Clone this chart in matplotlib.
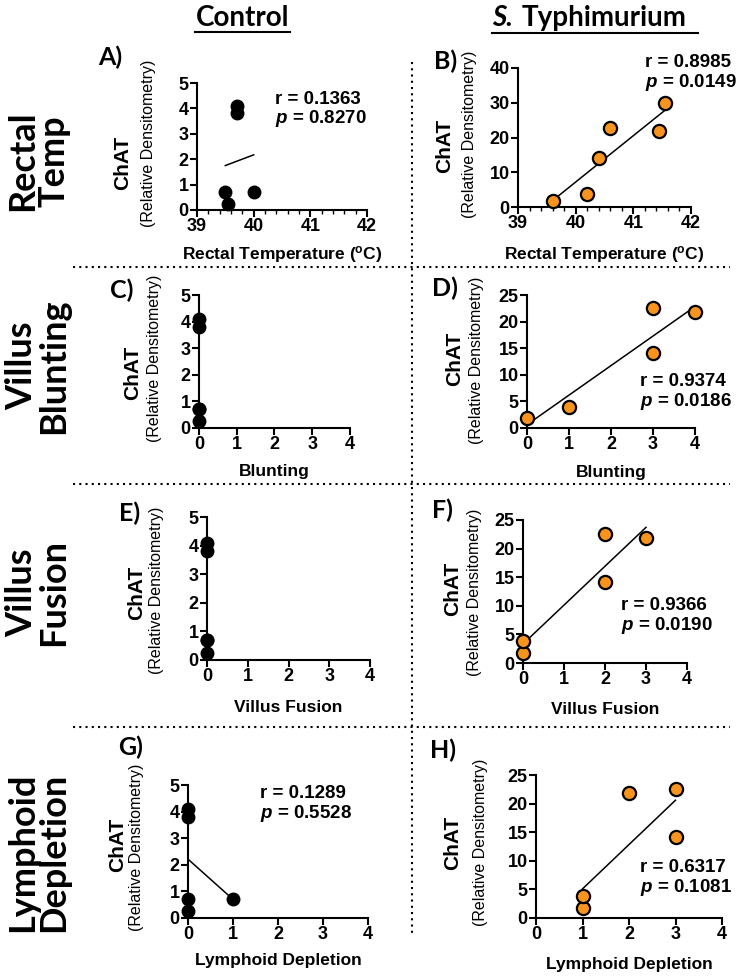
import numpy as np
import matplotlib.pyplot as plt
from matplotlib.lines import Line2D
from matplotlib.ticker import MultipleLocator

plt.rcParams['font.family'] = ['Liberation Sans', 'DejaVu Sans']
plt.rcParams['mathtext.fontset'] = 'custom'
plt.rcParams['mathtext.rm'] = 'Liberation Sans:bold'
plt.rcParams['mathtext.it'] = 'Liberation Sans:italic:bold'
plt.rcParams['mathtext.bf'] = 'Liberation Sans:bold'

W, H = 740, 977

# control animals
ctrl_chat = [4.1, 3.8, 0.7, 0.25, 0.7]
ctrl_temp = [39.7, 39.7, 39.5, 39.55, 40.0]
ctrl_blunt = [0, 0, 0, 0, 0]
ctrl_fusion = [0, 0, 0, 0, 0]
ctrl_lymph = [0, 0, 0, 0, 1]

# S. Typhimurium animals
st_chat_temp = [1.8, 3.8, 14.0, 22.6, 21.8, 29.8]
st_temp = [39.6, 40.2, 40.4, 40.6, 41.45, 41.55]
st_chat = [1.8, 3.9, 14.1, 22.6, 21.8]
st_blunt = [0, 1, 3, 3, 4]
st_fusion = [0, 0, 2, 2, 3]
st_lymph = [1, 1, 3, 3, 2]

r_vals = {'A': '0.1363', 'B': '0.8985', 'D': '0.9374', 'F': '0.9366', 'G': '0.1289', 'H': '0.6317'}
p_vals = {'A': '0.8270', 'B': '0.0149', 'D': '0.0186', 'F': '0.0190', 'G': '0.5528', 'H': '0.1081'}

xlab_temp = 'Rectal Temperature ($^{\\mathrm{o}}$C)'

ORANGE = '#f7941d'

# name, x, y, xlabel, xlim, ylim, ystep, fit, color, box(l,r,t,b), xlabel y, ChAT (x,y), paren (x,y), label pos, stats pos
panels = [
    ('A', ctrl_temp, ctrl_chat, xlab_temp, (39, 42), (0, 5), 1, True, 'k',
     (197, 367, 83, 210), 255, (123, 163), (148, 143), (110, 57), (0.46, 0.94)),
    ('B', st_temp, st_chat_temp, xlab_temp, (39, 42), (0, 40), 10, True, ORANGE,
     (518, 691, 68, 207), 255, (445, 146), (470, 134), (446, 61), (0.735, 1.10)),
    ('C', ctrl_blunt, ctrl_chat, 'Blunting', (0, 4), (0, 5), 1, False, 'k',
     (199, 350, 295, 428), 472, (133, 373), (154, 358), (122, 290), None),
    ('D', st_blunt, st_chat, 'Blunting', (0, 4), (0, 25), 5, True, ORANGE,
     (527, 695, 295, 428), 473, (455, 359), (477, 360), (445, 288), (0.675, 0.41)),
    ('E', ctrl_fusion, ctrl_chat, 'Villus Fusion', (0, 4), (0, 5), 1, False, 'k',
     (207, 370, 517, 660), 707, (137, 593), (157, 590), (130, 513), None),
    ('F', st_fusion, st_chat, 'Villus Fusion', (0, 4), (0, 25), 5, True, ORANGE,
     (523, 687, 520, 663), 710, (453, 589), (475, 592), (442, 510), (0.60, 0.46)),
    ('G', ctrl_lymph, ctrl_chat, 'Lymphoid Depletion', (0, 4), (0, 5), 1, True, 'k',
     (188, 368, 785, 918), 960, (118, 845), (137, 847), (131, 747), (0.40, 1.0)),
    ('H', st_lymph, st_chat, 'Lymphoid Depletion', (0, 4), (0, 25), 5, True, ORANGE,
     (536, 722, 775, 918), 965, (453, 843), (480, 842), (443, 750), (0.56, 0.41)),
]

fig = plt.figure(figsize=(W / 100, H / 100), dpi=100)


def fx(x):
    return x / W


def fy(y):
    return 1 - y / H


for (name, x, y, xlab, xlim, ylim, ystep, fit, color, box, xlab_y,
     chat_pos, par_pos, lab_pos, stat_pos) in panels:
    l, r, t, b = box
    ax = fig.add_axes([fx(l), fy(b), (r - l) / W, (b - t) / H])
    if color == 'k':
        ax.plot(x, y, 'o', ms=9, color='k', clip_on=False, zorder=3)
    else:
        ax.plot(x, y, 'o', ms=9.5, mfc=color, mec='k', mew=1.6, clip_on=False, zorder=3)
    if fit:
        m, c = np.polyfit(x, y, 1)
        xs = np.array([min(x), max(x)])
        ax.plot(xs, m * xs + c, color='k', lw=1.1, zorder=2)
    ax.set_xlim(*xlim)
    ax.set_ylim(*ylim)
    ax.xaxis.set_major_locator(MultipleLocator(1))
    ax.yaxis.set_major_locator(MultipleLocator(ystep))
    if name in ('A', 'B'):
        ax.xaxis.set_minor_locator(MultipleLocator(0.2))
    for s in ('top', 'right'):
        ax.spines[s].set_visible(False)
    for s in ('left', 'bottom'):
        ax.spines[s].set_linewidth(1.5)
    ax.tick_params(which='major', direction='out', length=5, width=1.5,
                   labelsize=13, pad=1)
    ax.tick_params(which='minor', direction='out', length=3, width=1)
    for lbl in ax.get_xticklabels() + ax.get_yticklabels():
        lbl.set_fontweight('bold')
    ax.set_xlabel(xlab, fontsize=12.5, fontweight='bold', va='center')
    ax.xaxis.set_label_coords(0.5, (b - xlab_y) / (b - t))

    fig.text(fx(chat_pos[0]), fy(chat_pos[1]), 'ChAT', rotation=90, fontsize=15,
             fontweight='bold', ha='center', va='center')
    fig.text(fx(par_pos[0]), fy(par_pos[1]), '(Relative Densitometry)', rotation=90,
             fontsize=11.5, ha='center', va='center')
    fig.text(fx(lab_pos[0]), fy(lab_pos[1]), name + ')', family=['Lato', 'DejaVu Sans'],
             fontweight='bold', fontsize=18, ha='center', va='center')
    if stat_pos is not None:
        ax.text(stat_pos[0], stat_pos[1],
                'r = ' + r_vals[name] + '\n$\\it{p}$ = ' + p_vals[name],
                transform=ax.transAxes, ha='left', va='top', fontsize=13.5,
                fontweight='bold', linespacing=1.05)

# column headers
hfont = ['Lato', 'DejaVu Sans']
fig.text(fx(243), fy(18), 'Control', family=hfont, fontweight='bold', fontsize=20,
         ha='center', va='center')
fig.add_artist(Line2D([fx(195), fx(290)], [fy(32), fy(32)], color='k', lw=1.5))
fig.text(fx(492), fy(18), 'S.', family=hfont, fontweight='bold', style='italic',
         fontsize=20, ha='left', va='center')
fig.text(fx(522), fy(18), 'Typhimurium', family=hfont, fontweight='bold', fontsize=20,
         ha='left', va='center')
fig.add_artist(Line2D([fx(492), fx(698)], [fy(33), fy(33)], color='k', lw=1.5))

# row labels
row_labels = ['Rectal\nTemp', 'Villus\nBlunting', 'Villus\nFusion', 'Lymphoid\nDepletion']
row_y = [161, 366, 593, 852]
for txt, yy in zip(row_labels, row_y):
    fig.text(fx(38), fy(yy), txt, family=hfont, fontweight='bold', fontsize=26,
             rotation=90, ha='center', va='center', multialignment='center',
             linespacing=0.95)

# dotted separators
dot = (0, (1, 2))
for yy in (267, 484, 727):
    fig.add_artist(Line2D([fx(73), fx(730)], [fy(yy), fy(yy)], color='k', lw=1.5, ls=dot))
fig.add_artist(Line2D([fx(412), fx(412)], [fy(62), fy(935)], color='k', lw=1.5, ls=dot))

fig.savefig('out.png', dpi=100)
